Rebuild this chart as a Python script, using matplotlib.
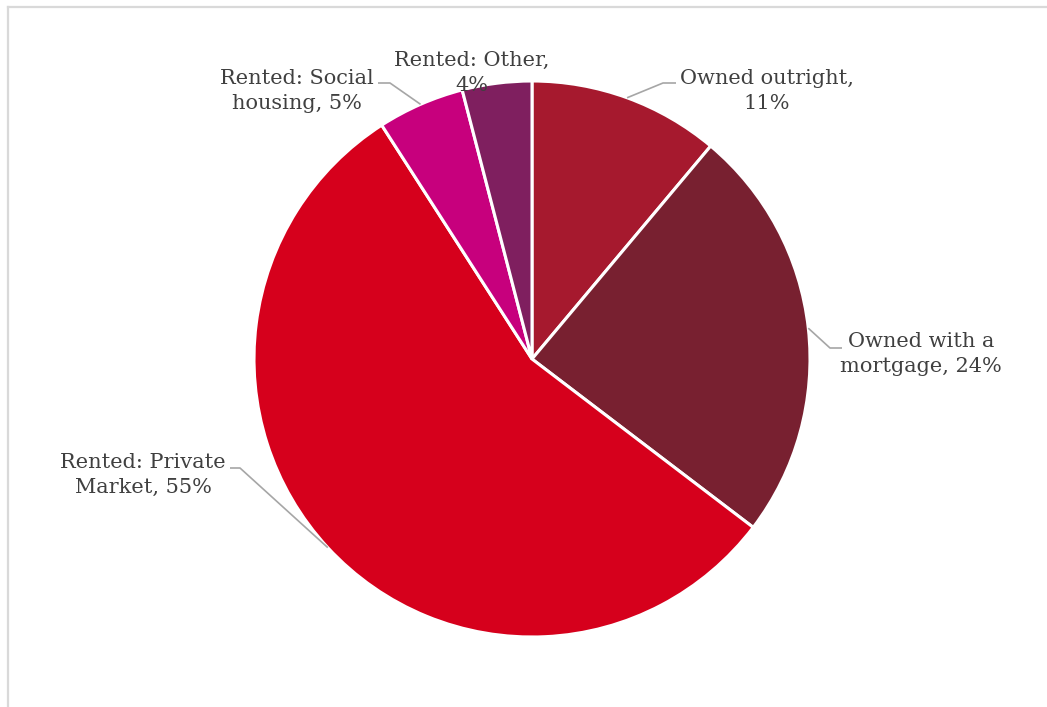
import numpy as np
import matplotlib
matplotlib.use("Agg")
import matplotlib.pyplot as plt
from matplotlib.lines import Line2D

# tenure split, clockwise from 12 o'clock
tenure = ["Owned outright", "Owned with a mortgage", "Rented: Private Market",
          "Rented: Social housing", "Rented: Other"]
share = [11, 24, 55, 5, 4]
colours = ["#A6192E", "#782030", "#D6001C", "#C7007D", "#7F1F5F"]

# label text (two lines each) and where it sits, in pixels from top-left
label_text = ["Owned outright,\n{}%", "Owned with a\nmortgage, {}%",
              "Rented: Private\nMarket, {}%", "Rented: Social\nhousing, {}%",
              "Rented: Other,\n{}%"]
label_xy = [(767, 91), (921, 354), (143, 475), (297, 91), (472, 73)]
# leader elbow / end points (None = no leader)
leader_pts = [[(663, 83), (676, 83)],
              [(830, 348), (842, 348)],
              [(240, 468), (230, 468)],
              [(390, 83), (378, 83)],
              None]

W, H = 1047, 707
fig = plt.figure(figsize=(W / 100, H / 100), dpi=100)
ax = fig.add_axes([0, 0, 1, 1])

cx, cy, r = 532, H - 359, 278
wedges, _ = ax.pie(share, colors=colours, startangle=90, counterclock=False,
                   center=(cx, cy), radius=r, frame=True,
                   wedgeprops=dict(edgecolor="white", linewidth=2.2))
ax.set_xlim(0, W)
ax.set_ylim(0, H)
ax.set_aspect("equal")
ax.axis("off")

for w, txt, (lx, ly), pts, v in zip(wedges, label_text, label_xy, leader_pts, share):
    ax.text(lx, H - ly, txt.format(v), ha="center", va="center",
            fontsize=15, family="DejaVu Serif", color="#404040",
            linespacing=1.45)
    if pts is None:
        continue
    mid = np.deg2rad((w.theta1 + w.theta2) / 2)
    xs = [cx + r * np.cos(mid)] + [p[0] for p in pts]
    ys = [cy + r * np.sin(mid)] + [H - p[1] for p in pts]
    ax.plot(xs, ys, color="#A6A6A6", lw=1.2, solid_capstyle="butt")

# light frame on the top and left edges
fig.add_artist(Line2D([8 / W, 8 / W], [0, 1 - 7 / H], color="#D9D9D9", lw=1.6))
fig.add_artist(Line2D([8 / W, 1], [1 - 7 / H, 1 - 7 / H], color="#D9D9D9", lw=1.6))

fig.savefig("out.png", dpi=100, facecolor="white")
